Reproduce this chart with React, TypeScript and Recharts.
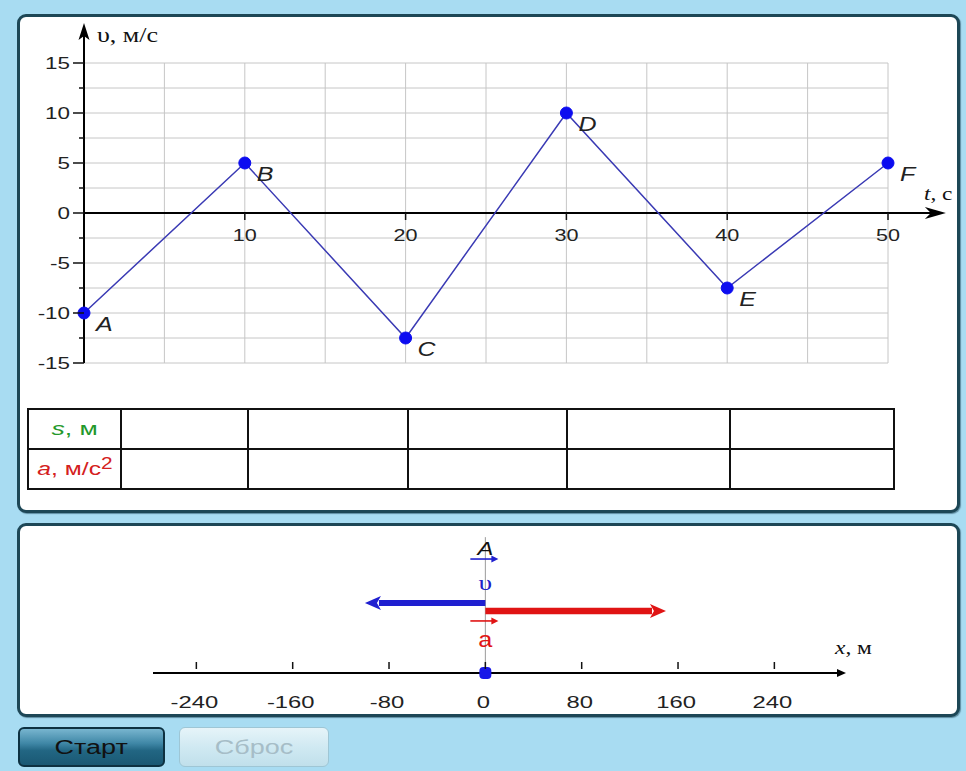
import React from 'react';
import {
  ComposedChart,
  Line,
  XAxis,
  YAxis,
  CartesianGrid,
  ReferenceLine,
  ReferenceDot,
  LabelList,
  Scatter,
} from 'recharts';

// ---------- data ----------
const times = [0, 10, 20, 30, 40, 50];
const velocities = [-10, 5, -12.5, 10, -7.5, 5];
const pointNames = ['A', 'B', 'C', 'D', 'E', 'F'];
const timeGridTicks = [0, 5, 10, 15, 20, 25, 30, 35, 40, 45, 50];
const timeLabelTicks = [10, 20, 30, 40, 50];
const velocityGridTicks = [-15, -12.5, -10, -7.5, -5, -2.5, 0, 2.5, 5, 7.5, 10, 12.5, 15];
const positionTicks = [-240, -160, -80, 0, 80, 160, 240];
const currentPosition = [0];
const currentVelocity = velocities[0];
const currentAcceleration = 1.5;

const chartData = times.map((t, i) => ({ t, v: velocities[i], name: pointNames[i] }));
const positionData = currentPosition.map((x) => ({ x, y: 0 }));

// ---------- layout constants ----------
const SANS = '"Liberation Sans", Arial, sans-serif';
const SERIF = '"Liberation Serif", "Times New Roman", serif';
const V_SCALE = 10; // metres of arrow per m/s
const A_SCALE = 100; // metres of arrow per m/s^2
const LANE_V = 4.9;
const LANE_A = 4.34;

function SText({ x, y, sx = 1.35, anchor = 'start', children, ...rest }: any) {
  return (
    <text transform={`translate(${x},${y}) scale(${sx},1)`} textAnchor={anchor} {...rest}>
      {children}
    </text>
  );
}

const VTick = (p: any) => {
  const { x, y, payload } = p;
  const v = payload.value;
  const major = Math.abs(v % 5) < 1e-9;
  return (
    <g>
      <line x1={x - (major ? 11 : 5)} x2={x} y1={y} y2={y} stroke="#111" strokeWidth={1.5} />
      {major ? (
        <SText x={x - 14} y={y + 6} anchor="end" sx={1.4} fontSize={16} fontFamily={SANS} fill="#222">
          {v}
        </SText>
      ) : null}
    </g>
  );
};

const EmptyTick = () => <g />;

const YAxisArrow = (p: any) => {
  const x = p.x1;
  const top = Math.min(p.y1, p.y2);
  const bottom = Math.max(p.y1, p.y2);
  return (
    <g>
      <line x1={x} x2={x} y1={bottom} y2={top + 10} stroke="#000" strokeWidth={2} />
      <polygon points={`${x},${top} ${x - 5.5},${top + 17} ${x},${top + 13} ${x + 5.5},${top + 17}`} fill="#000" />
      <SText x={x + 13} y={top + 19} sx={1.3} fontSize={20} fontFamily={SERIF} fill="#111">
        υ, м/с
      </SText>
    </g>
  );
};

const XAxisArrow = (p: any) => {
  const y = p.y1;
  const left = Math.min(p.x1, p.x2);
  const right = Math.max(p.x1, p.x2);
  return (
    <g>
      <line x1={left} x2={right - 10} y1={y} y2={y} stroke="#000" strokeWidth={2} />
      <polygon points={`${right},${y} ${right - 21},${y - 6} ${right - 15},${y} ${right - 21},${y + 6}`} fill="#000" />
      <SText x={right - 22} y={y - 13} sx={1.3} fontSize={18} fontFamily={SERIF} fill="#111">
        <tspan fontStyle="italic">t</tspan>, c
      </SText>
    </g>
  );
};

const TimeTick = (p: any) => {
  const { cx, cy, value } = p;
  return (
    <g>
      <line x1={cx} x2={cx} y1={cy} y2={cy + 7} stroke="#111" strokeWidth={1.5} />
      <SText x={cx} y={cy + 28} anchor="middle" sx={1.35} fontSize={16} fontFamily={SANS} fill="#222">
        {value}
      </SText>
    </g>
  );
};

const PointLabel = (p: any) => {
  const { x, y, value } = p;
  return (
    <SText x={x + 12} y={y + 18} sx={1.25} fontSize={20} fontStyle="italic" fontFamily={SANS} fill="#222">
      {value}
    </SText>
  );
};

const PosTick = (p: any) => {
  const { x, y, payload } = p;
  return (
    <g>
      <line x1={x} x2={x} y1={y - 11} y2={y - 4} stroke="#111" strokeWidth={1.5} />
      <SText x={x - 2} y={y + 35} anchor="middle" sx={1.4} fontSize={17} fontFamily={SANS} fill="#222">
        {payload.value}
      </SText>
    </g>
  );
};

const NumberLine = (p: any) => {
  const y = p.y1;
  const left = Math.min(p.x1, p.x2);
  const right = Math.max(p.x1, p.x2);
  return (
    <g>
      <line x1={left} x2={right - 4} y1={y} y2={y} stroke="#000" strokeWidth={2} />
      <polygon points={`${right + 3},${y} ${right - 6},${y - 4} ${right - 6},${y + 4}`} fill="#000" />
      <SText x={right - 8} y={y - 19} sx={1.3} fontSize={18} fontFamily={SERIF} fill="#111">
        <tspan fontStyle="italic">x</tspan>, м
      </SText>
    </g>
  );
};

const makeVector = (color: string, width: number) => (p: any) => {
  const y = p.y1;
  const sx = p.x1;
  const ex = p.x2;
  const dir = ex >= sx ? 1 : -1;
  const head = 16;
  const half = 7;
  return (
    <g>
      <line x1={sx} x2={ex - dir * (head - 2)} y1={y} y2={y} stroke={color} strokeWidth={width} />
      <polygon
        points={`${ex},${y} ${ex - dir * head},${y - half} ${ex - dir * (head - 4)},${y} ${ex - dir * head},${y + half}`}
        fill={color}
      />
    </g>
  );
};

const VelocityVector = makeVector('#1f1fd0', 6);
const AccelVector = makeVector('#e01414', 6.5);

const OverArrow = (color: string) => (p: any) => {
  const { cx, cy } = p;
  return (
    <g>
      <line x1={cx - 15} x2={cx + 10} y1={cy} y2={cy} stroke={color} strokeWidth={1.6} />
      <polygon points={`${cx + 13},${cy} ${cx + 6},${cy - 3.5} ${cx + 6},${cy + 3.5}`} fill={color} />
    </g>
  );
};

const TextAt = (text: string, color: string, size: number, family: string, italic: boolean, sx: number) => (p: any) => (
  <SText
    x={p.cx}
    y={p.cy}
    anchor="middle"
    sx={sx}
    fontSize={size}
    fontFamily={family}
    fontStyle={italic ? 'italic' : 'normal'}
    fill={color}
  >
    {text}
  </SText>
);

const PositionMarker = (p: any) => (
  <rect x={p.cx - 6} y={p.cy - 6} width={12} height={12} rx={4} fill="#1818e8" />
);

const panelStyle = (top: number, height: number): React.CSSProperties => ({
  position: 'absolute',
  left: 17,
  top,
  width: 943,
  height,
  boxSizing: 'border-box',
  border: '3px solid #1d4756',
  borderRadius: 9,
  background: '#ffffff',
  boxShadow: '1px 1px 1px rgba(20,60,80,0.5)',
});

const cellStyle: React.CSSProperties = {
  border: '2px solid #111',
  height: 38,
  padding: 0,
  textAlign: 'center',
  verticalAlign: 'middle',
};

export default function App() {
  const colWidths = [93, 127, 160, 159, 163, 164];
  return (
    <div
      style={{
        position: 'absolute',
        left: 0,
        top: 0,
        width: 966,
        height: 771,
        background: '#a8dcf2',
        overflow: 'hidden',
        fontFamily: SANS,
      }}
    >
      <div style={panelStyle(14, 499)} />
      <div style={panelStyle(523, 194)} />

      {/* velocity–time graph */}
      <div style={{ position: 'absolute', left: 0, top: 0 }}>
        <ComposedChart width={966} height={400} data={chartData} margin={{ top: 63, right: 78, bottom: 36, left: 83 }}>
          <CartesianGrid
            stroke="#c6c6c6"
            strokeWidth={1}
            verticalValues={timeGridTicks}
            horizontalValues={velocityGridTicks}
          />
          <XAxis
            dataKey="t"
            type="number"
            domain={[0, 50]}
            ticks={timeGridTicks}
            interval={0}
            axisLine={false}
            tickLine={false}
            tick={EmptyTick}
            height={1}
          />
          <YAxis
            type="number"
            domain={[-15, 15]}
            ticks={velocityGridTicks}
            interval={0}
            width={1}
            axisLine={false}
            tickLine={false}
            tickSize={0}
            tickMargin={0}
            tick={(p: any) => <VTick {...p} />}
          />
          <ReferenceLine segment={[{ x: 0, y: 0 }, { x: 53.6, y: 0 }]} ifOverflow="visible" shape={XAxisArrow} />
          <ReferenceLine segment={[{ x: 0, y: -15 }, { x: 0, y: 19 }]} ifOverflow="visible" shape={YAxisArrow} />
          {timeLabelTicks.map((t) => (
            <ReferenceDot
              key={t}
              x={t}
              y={0}
              r={0}
              ifOverflow="visible"
              shape={(p: any) => <TimeTick {...p} value={t} />}
            />
          ))}
          <Line
            dataKey="v"
            type="linear"
            stroke="#3a3ab4"
            strokeWidth={1.5}
            dot={{ r: 6, fill: '#0c0cf0', stroke: '#0c0cf0', strokeWidth: 1 }}
            activeDot={false}
            isAnimationActive={false}
          >
            <LabelList dataKey="name" content={PointLabel} />
          </Line>
        </ComposedChart>
      </div>

      {/* table */}
      <div style={{ position: 'absolute', left: 27, top: 408 }}>
        <table style={{ borderCollapse: 'collapse', tableLayout: 'fixed', width: 866 }}>
          <colgroup>
            {colWidths.map((w, i) => (
              <col key={i} style={{ width: w }} />
            ))}
          </colgroup>
          <tbody>
            <tr>
              <td style={cellStyle}>
                <span style={{ display: 'inline-block', transform: 'scaleX(1.4)', color: '#23982a', fontSize: 19 }}>
                  <i>s</i>, м
                </span>
              </td>
              {colWidths.slice(1).map((_, i) => (
                <td key={i} style={cellStyle} />
              ))}
            </tr>
            <tr>
              <td style={cellStyle}>
                <span style={{ display: 'inline-block', transform: 'scaleX(1.3)', color: '#d42020', fontSize: 19 }}>
                  <i>a</i>, м/с<sup style={{ fontSize: 16, verticalAlign: 'top', lineHeight: '12px' }}>2</sup>
                </span>
              </td>
              {colWidths.slice(1).map((_, i) => (
                <td key={i} style={cellStyle} />
              ))}
            </tr>
          </tbody>
        </table>
      </div>

      {/* position axis */}
      <div style={{ position: 'absolute', left: 0, top: 520 }}>
        <ComposedChart width={966} height={200} margin={{ top: 10, right: 123, bottom: 46, left: 153 }}>
          <XAxis
            dataKey="x"
            type="number"
            domain={[-276, 297]}
            ticks={positionTicks}
            interval={0}
            axisLine={false}
            tickLine={false}
            tickSize={0}
            tickMargin={0}
            height={1}
            allowDataOverflow
            tick={(p: any) => <PosTick {...p} />}
          />
          <YAxis dataKey="y" type="number" domain={[0, 10]} hide width={0} />
          <ReferenceLine segment={[{ x: -276, y: 0 }, { x: 297, y: 0 }]} ifOverflow="visible" shape={NumberLine} />
          <ReferenceLine
            segment={[{ x: currentPosition[0], y: 0 }, { x: currentPosition[0], y: 9.5 }]}
            stroke="#9a9a9a"
            strokeWidth={1}
            ifOverflow="visible"
          />
          <ReferenceLine
            segment={[
              { x: currentPosition[0], y: LANE_V },
              { x: currentPosition[0] + currentVelocity * V_SCALE, y: LANE_V },
            ]}
            ifOverflow="visible"
            shape={VelocityVector}
          />
          <ReferenceLine
            segment={[
              { x: currentPosition[0], y: LANE_A },
              { x: currentPosition[0] + currentAcceleration * A_SCALE, y: LANE_A },
            ]}
            ifOverflow="visible"
            shape={AccelVector}
          />
          <ReferenceDot x={currentPosition[0]} y={8.25} r={0} ifOverflow="visible" shape={TextAt(pointNames[0], '#111', 19, SANS, true, 1.25)} />
          <ReferenceDot x={currentPosition[0]} y={7.97} r={0} ifOverflow="visible" shape={OverArrow('#2020d0')} />
          <ReferenceDot x={currentPosition[0]} y={5.8} r={0} ifOverflow="visible" shape={TextAt('υ', '#2020c8', 22, SERIF, false, 1.25)} />
          <ReferenceDot x={currentPosition[0]} y={3.64} r={0} ifOverflow="visible" shape={OverArrow('#e01414')} />
          <ReferenceDot x={currentPosition[0]} y={1.82} r={0} ifOverflow="visible" shape={TextAt('a', '#e01414', 22, SANS, false, 1.15)} />
          <Scatter data={positionData} dataKey="y" shape={PositionMarker} isAnimationActive={false} />
        </ComposedChart>
      </div>

      {/* buttons */}
      <div
        style={{
          position: 'absolute',
          left: 18,
          top: 727,
          width: 147,
          height: 40,
          boxSizing: 'border-box',
          border: '2px solid #0d3141',
          borderRadius: 6,
          background: 'linear-gradient(#78b5cf 0%, #3f87a6 40%, #226683 60%, #1a5873 100%)',
          display: 'flex',
          alignItems: 'center',
          justifyContent: 'center',
          color: '#111',
          fontSize: 20,
        }}
      >
        <span style={{ display: 'inline-block', transform: 'scaleX(1.35)' }}>Старт</span>
      </div>
      <div
        style={{
          position: 'absolute',
          left: 179,
          top: 727,
          width: 150,
          height: 40,
          boxSizing: 'border-box',
          border: '1px solid #9ec6d5',
          borderRadius: 6,
          background: 'linear-gradient(#e6f4f9 0%, #d0e9f2 50%, #c0e0eb 100%)',
          display: 'flex',
          alignItems: 'center',
          justifyContent: 'center',
          color: '#a6bdc7',
          fontSize: 20,
        }}
      >
        <span style={{ display: 'inline-block', transform: 'scaleX(1.35)' }}>Сброс</span>
      </div>
    </div>
  );
}
